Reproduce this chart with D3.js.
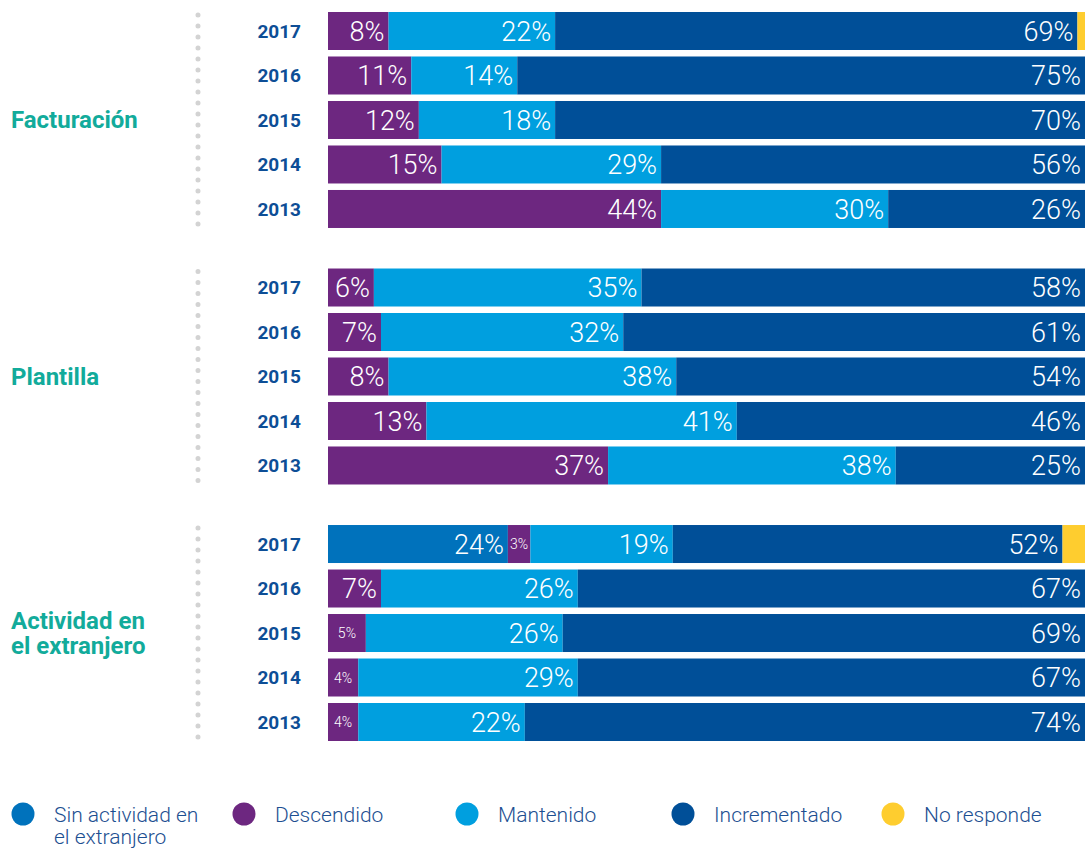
<!DOCTYPE html>
<html lang="es">
<head>
<meta charset="UTF-8">
<title>Evolución</title>
<script src="https://d3js.org/d3.v7.min.js"></script>
<style>
  body { margin: 0; background: #fff; }
  svg { display: block; }
</style>
</head>
<body>
<svg width="1086" height="849"></svg>
<script>
// chart data
const groups = ["Facturación", "Plantilla", "Actividad en el extranjero"];
const years = ["2017", "2016", "2015", "2014", "2013"];
const series = ["Sin actividad en el extranjero", "Descendido", "Mantenido", "Incrementado", "No responde"];
// one row of values per group, in the order of the years
const sinActividad = [[0, 0, 0, 0, 0], [0, 0, 0, 0, 0], [24, 0, 0, 0, 0]];
const descendido   = [[8, 11, 12, 15, 44], [6, 7, 8, 13, 37], [3, 7, 5, 4, 4]];
const mantenido    = [[22, 14, 18, 29, 30], [35, 32, 38, 41, 38], [19, 26, 26, 29, 22]];
const incrementado = [[69, 75, 70, 56, 26], [58, 61, 54, 46, 25], [52, 67, 69, 67, 74]];
const noResponde   = [[1, 0, 0, 0, 0], [0, 0, 0, 0, 0], [3, 0, 0, 0, 0]];
const colors = ["#0072bc", "#6d2780", "#009fdf", "#004f98", "#fecd2f"];

const seriesValues = [sinActividad, descendido, mantenido, incrementado, noResponde];

const svg = d3.select("svg");
const font = "Roboto, 'Liberation Sans', sans-serif";

// build the table the stack needs
const rows = [];
groups.forEach((g, gi) => {
  years.forEach((yr, yi) => {
    const row = {group: g, year: yr};
    series.forEach((s, si) => { row[s] = seriesValues[si][gi][yi]; });
    rows.push(row);
  });
});

const stack = d3.stack().keys(series).offset(d3.stackOffsetExpand);
const stacked = stack(rows);

const x = d3.scaleLinear().domain([0, 1]).range([328, 1085]);

const yGroup = d3.scaleBand()
  .domain(groups)
  .range([12, 741])
  .paddingInner(0.158);

const yRow = d3.scaleBand()
  .domain(years)
  .range([0, yGroup.bandwidth()])
  .paddingInner(0.146);

const rowY = d => yGroup(d.data.group) + yRow(d.data.year);

const color = d3.scaleOrdinal().domain(series).range(colors);

// bars
const layers = svg.append("g")
  .selectAll("g")
  .data(stacked)
  .join("g")
  .attr("fill", d => color(d.key));

layers.selectAll("rect")
  .data(d => d.map(p => Object.assign(p, {key: d.key})))
  .join("rect")
  .attr("x", d => x(d[0]))
  .attr("y", d => rowY(d))
  .attr("width", d => Math.max(0, x(d[1]) - x(d[0])))
  .attr("height", yRow.bandwidth());

// value labels
layers.selectAll("text")
  .data(d => d.filter(p => p.data[d.key] > 0 && d.key !== "No responde"))
  .join("text")
  .each(function(d) {
    const v = d.data[d.key];
    const w = x(d[1]) - x(d[0]);
    const small = w < 45;
    d3.select(this)
      .attr("x", small ? (x(d[0]) + x(d[1])) / 2 : x(d[1]) - 4)
      .attr("y", rowY(d) + yRow.bandwidth() / 2)
      .attr("dy", "0.36em")
      .attr("text-anchor", small ? "middle" : "end")
      .attr("font-size", small ? 14 : 27)
      .text(v + "%");
  })
  .attr("fill", "#fff")
  .attr("font-family", font)
  .attr("font-weight", 300);

// year labels
svg.append("g")
  .selectAll("text")
  .data(rows)
  .join("text")
  .attr("x", 301)
  .attr("y", d => yGroup(d.group) + yRow(d.year) + yRow.bandwidth() / 2)
  .attr("dy", "0.36em")
  .attr("text-anchor", "end")
  .attr("font-family", font)
  .attr("font-weight", 700)
  .attr("font-size", 19)
  .attr("fill", "#0d4e96")
  .text(d => d.year);

// dotted separators
svg.append("g")
  .selectAll("line")
  .data(groups)
  .join("line")
  .attr("x1", 198).attr("x2", 198)
  .attr("y1", d => yGroup(d) + 3)
  .attr("y2", d => yGroup(d) + yGroup.bandwidth() + 2)
  .attr("stroke", "#d3d3d3")
  .attr("stroke-width", 5)
  .attr("stroke-linecap", "round")
  .attr("stroke-dasharray", "0,11");

// group labels
const groupLines = {
  "Facturación": ["Facturación"],
  "Plantilla": ["Plantilla"],
  "Actividad en el extranjero": ["Actividad en", "el extranjero"]
};
svg.append("g")
  .selectAll("text")
  .data(groups)
  .join("text")
  .attr("x", 11)
  .attr("y", d => yGroup(d) + yGroup.bandwidth() / 2 - (groupLines[d].length - 1) * 12.5)
  .attr("font-family", font)
  .attr("font-weight", 700)
  .attr("font-size", 24)
  .attr("fill", "#12ab9b")
  .each(function(d) {
    d3.select(this).selectAll("tspan")
      .data(groupLines[d])
      .join("tspan")
      .attr("x", 11)
      .attr("dy", (t, i) => i === 0 ? "0.34em" : 25)
      .text(t => t);
  });

// legend
const legendPos = [23, 244, 467, 683, 893];
const legendLines = {
  "Sin actividad en el extranjero": ["Sin actividad en", "el extranjero"]
};
const legend = svg.append("g")
  .selectAll("g")
  .data(series)
  .join("g")
  .attr("transform", (d, i) => `translate(${legendPos[i]},814)`);

legend.append("circle")
  .attr("r", 11.5)
  .attr("fill", d => color(d));

legend.append("text")
  .attr("x", 31)
  .attr("font-family", font)
  .attr("font-weight", 300)
  .attr("font-size", 21)
  .attr("fill", "#1d4f91")
  .selectAll("tspan")
  .data(d => legendLines[d] || [d])
  .join("tspan")
  .attr("x", 31)
  .attr("dy", (t, i) => i === 0 ? "0.36em" : 22)
  .text(t => t);
</script>
</body>
</html>
